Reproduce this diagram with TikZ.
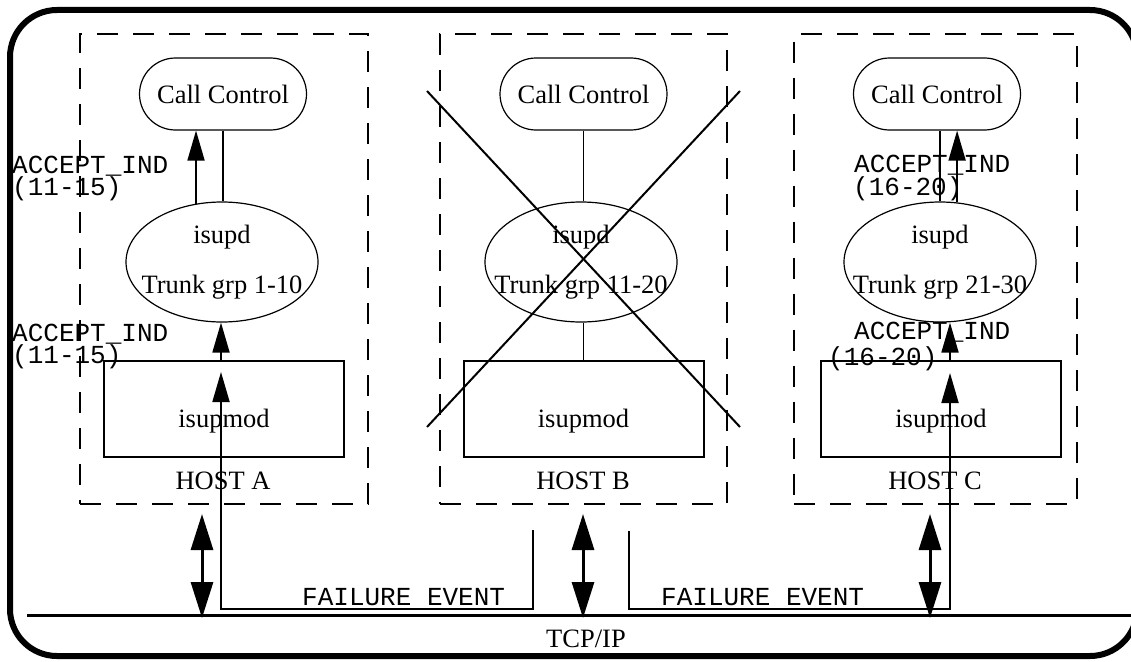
\documentclass[tikz,border=0pt]{standalone}
\usepackage{fontspec}
\setmainfont{Liberation Serif}
\newfontfamily\monofont{Liberation Mono}
\usetikzlibrary{arrows.meta,shapes.geometric}

\begin{document}
\begin{tikzpicture}[x=1pt,y=-1pt,
  serif/.style={font=\fontsize{26.5}{50}\selectfont, inner sep=0pt},
  mono/.style={font=\monofont\fontsize{26}{26}\selectfont, inner sep=0pt, anchor=base west},
  hostbox/.style={draw, line width=2pt, dash pattern=on 21pt off 15pt,
    minimum height=470pt, inner sep=0pt},
  callctl/.style={serif, draw, line width=1.2pt, rounded corners=36pt,
    minimum width=167pt, minimum height=72pt},
  proc/.style={draw, line width=1.2pt, ellipse, minimum width=192pt,
    minimum height=120pt, inner sep=0pt},
  modbox/.style={serif, draw, line width=2pt, minimum width=240pt,
    minimum height=96pt, text height=40pt, text depth=4pt},
  hostlbl/.style={serif, anchor=base},
  link/.style={line width=1.5pt},
  msg/.style={line width=1.8pt, -{Triangle[length=30pt,width=17pt]}},
  fail/.style={line width=1.8pt},
  net/.style={line width=3pt,
    {Triangle[length=36pt,width=22pt]}-{Triangle[length=36pt,width=22pt]}},
  xmark/.style={line width=2pt}]

\useasboundingbox (0,0) rectangle (1131,661);

% outer frame (its right side runs just past the page edge)
\draw[line width=6pt, rounded corners=47pt] (10,10) rectangle (1137,656);

% hosts
\node[hostbox, minimum width=288pt] (hostA) at (224,269) {};
\node[hostbox, minimum width=287pt] (hostB) at (583.5,269) {};
\node[hostbox, minimum width=283pt] (hostC) at (935.5,269) {};

\node[hostlbl] (lblA) at (223,489) {HOST A};
\node[hostlbl] (lblB) at (583,489) {HOST B};
\node[hostlbl] (lblC) at (935,489) {HOST C};

% call control
\node[callctl] (ccA) at (223,94) {Call Control};
\node[callctl] (ccB) at (583.5,94) {Call Control};
\node[callctl] (ccC) at (937,94) {Call Control};

% isupd processes
\node[proc] (isA) at (222,262) {};
\node[proc] (isB) at (581,262) {};
\node[proc] (isC) at (940,262) {};
\node[serif, align=center] (tA) at (isA) {isupd\\Trunk grp 1-10};
\node[serif, align=center] (tB) at (isB) {isupd\\Trunk grp 11-20};
\node[serif, align=center] (tC) at (isC) {isupd\\Trunk grp 21-30};

% isupmod boxes
\node[modbox] (imA) at (224,409) {isupmod};
\node[modbox] (imB) at (583.5,409) {isupmod};
\node[modbox] (imC) at (941,409) {isupmod};

% internal links
\draw[link] (ccA.south) -- (ccA.south |- isA.north);
\draw[link] (ccB.south) -- (ccB.south |- isB.north);
\draw[link] (imB.north) -- (imB.north |- isB.south);
\draw[link] (isC.north) -- (isC.north |- ccC.south);

% host B is down
\coordinate (x1) at (427,91);
\coordinate (x2) at (740,427);
\coordinate (x3) at (427,427);
\coordinate (x4) at (740,91);
\draw[xmark] (x1) -- (x2);
\draw[xmark] (x3) -- (x4);

% TCP/IP bus
\coordinate (busL) at (27,615);
\coordinate (busR) at (1137,615);
\draw[line width=3pt] (busL) -- (busR);
\node[serif, anchor=base] (tcp) at (586,647) {TCP/IP};

% host connections to the bus
\coordinate (nA) at (202,514);
\coordinate (nB) at (583,514);
\coordinate (nC) at (930,514);
\coordinate (bA) at (202,618);
\coordinate (bB) at (583,618);
\coordinate (bC) at (930,618);
\draw[net] (nA) -- (bA);
\draw[net] (nB) -- (bB);
\draw[net] (nC) -- (bC);

% failure events
\coordinate (feL) at (533,530);
\coordinate (feLb) at (533,609);
\coordinate (feA) at (221,372);
\coordinate (feR) at (629,531);
\coordinate (feRb) at (629,609);
\coordinate (feC) at (950,373);
\draw[fail, -{Triangle[length=30pt,width=17pt]}] (feL) -- (feLb) -| (feA);
\draw[fail, -{Triangle[length=30pt,width=17pt]}] (feR) -- (feRb) -| (feC);
\node[mono] (fe1) at (302,605) {FAILURE EVENT};
\node[mono] (fe2) at (661,605) {FAILURE EVENT};

% ACCEPT_IND messages
\draw[msg] (imA.north -| feA) -- (feA |- isA.south);
\draw[msg] (isA.114) -- (isA.114 |- ccA.south);
\draw[msg] (imC.north -| feC) -- (feC |- isC.south);
\draw[msg] (isC.74) -- (isC.74 |- ccC.south);

\node[mono] (a1) at (12,173) {ACCEPT\_IND};
\node[mono] (a1b) at (12,195) {(11-15)};
\node[mono] (a2) at (12,341) {ACCEPT\_IND};
\node[mono] (a2b) at (12,363) {(11-15)};
\node[mono] (c1) at (854,172) {ACCEPT\_IND};
\node[mono] (c1b) at (853,195) {(16-20)};
\node[mono] (c2) at (854,339) {ACCEPT\_IND};
\node[mono] (c2b) at (828,365) {(16-20)};

\end{tikzpicture}
\end{document}
